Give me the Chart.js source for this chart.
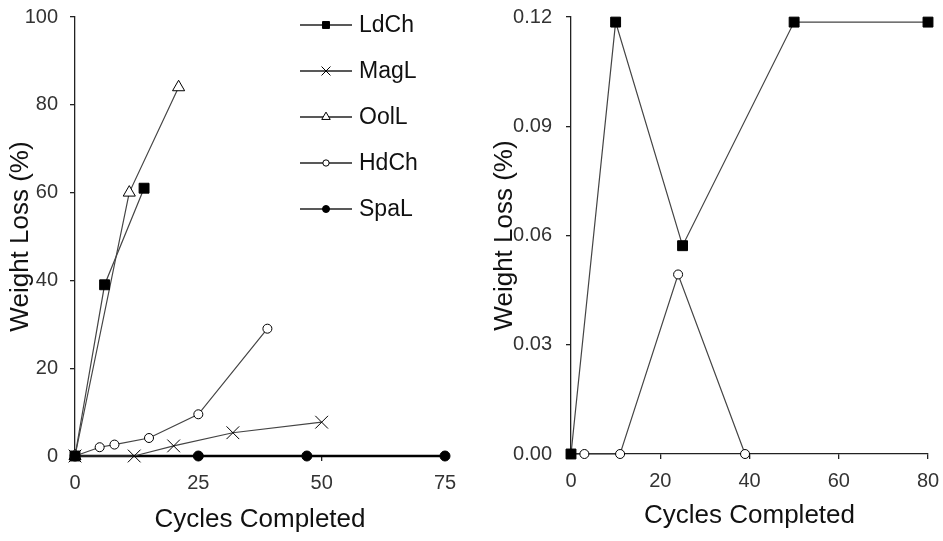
<!DOCTYPE html>
<html>
<head>
<meta charset="utf-8">
<script src="https://cdn.jsdelivr.net/npm/chart.js@4.4.1/dist/chart.umd.min.js"></script>
<style>
  html, body { margin: 0; padding: 0; background: #fff; }
  #wrap { position: relative; width: 943px; height: 541px; }
  canvas { position: absolute; top: 0; }
  #left { left: 0; }
  #right { left: 470px; }
</style>
</head>
<body>
<div id="wrap">
  <canvas id="left" width="470" height="541"></canvas>
  <canvas id="right" width="473" height="541"></canvas>
</div>
<script>
// left panel: weight loss (%) against cycles completed
const ldChCycles = [0, 6, 14];
const ldChLoss = [0, 39, 61];
const magLCycles = [0, 12, 20, 32, 50];
const magLLoss = [0, 0, 2.3, 5.3, 7.7];
const oolLCycles = [0, 11, 21];
const oolLLoss = [0, 60, 84];
const hdChCycles = [0, 5, 8, 15, 25, 39];
const hdChLoss = [0, 2, 2.6, 4.1, 9.5, 29];
const spaLCycles = [0, 25, 47, 75];
const spaLLoss = [0, 0, 0, 0];

// right panel: close-up of the low loss samples
const ldChCyclesR = [0, 10, 25, 50, 80];
const ldChLossR = [0, 0.1186, 0.0572, 0.1186, 0.1186];
const hdChCyclesR = [0, 3, 11, 24, 39];
const hdChLossR = [0, 0, 0, 0.0493, 0];

const leftXTicks = [0, 25, 50, 75];
const leftYTicks = [0, 20, 40, 60, 80, 100];
const rightXTicks = [0, 20, 40, 60, 80];
const rightYTicks = [0, 0.03, 0.06, 0.09, 0.12];

const FONT = 'Liberation Sans, Arial, sans-serif';
Chart.defaults.font.family = FONT;

const styles = {
  LdCh: { pointStyle: 'rect', radius: 7, fill: '#000', lw: 1.2, line: '#444', pbw: 1 },
  MagL: { pointStyle: 'crossRot', radius: 9, fill: '#000', lw: 1.2, line: '#444', pbw: 1 },
  OolL: { pointStyle: 'triangle', radius: 7, fill: '#fff', lw: 1.2, line: '#444', pbw: 1 },
  HdCh: { pointStyle: 'circle', radius: 4.5, fill: '#fff', lw: 1.2, line: '#444', pbw: 1 },
  SpaL: { pointStyle: 'circle', radius: 5, fill: '#000', lw: 2.6, line: '#000', pbw: 1 }
};

function makeSet(name, xs, ys) {
  const s = styles[name];
  return {
    label: name,
    data: xs.map((x, i) => ({ x: x, y: ys[i] })),
    borderColor: s.line,
    borderWidth: s.lw,
    pointStyle: s.pointStyle,
    pointRadius: s.radius,
    pointHoverRadius: s.radius,
    pointBackgroundColor: s.fill,
    pointBorderColor: '#000',
    pointBorderWidth: s.pbw,
    tension: 0,
    clip: false
  };
}

function makeAxis(min, max, ticks, size, title, titlePad, tickPad, fmt) {
  return {
    type: 'linear',
    min: min,
    max: max,
    afterBuildTicks: s => { s.ticks = ticks.map(v => ({ value: v })); },
    afterFit: s => {
      // fixed box sizes so the plot area lands where the reference has it
      if (s.isHorizontal()) {
        s.height = size;
        s.paddingLeft = 0;
        s.paddingRight = 0;
      } else {
        s.width = size;
        s.paddingTop = 0;
        s.paddingBottom = 0;
      }
    },
    grid: { drawOnChartArea: false, drawTicks: true, tickLength: 5, color: '#222', lineWidth: 1.3 },
    border: { color: '#222', width: 1.3 },
    ticks: {
      color: '#333',
      font: { size: 20 },
      padding: tickPad,
      maxRotation: 0,
      autoSkip: false,
      callback: fmt || (v => v)
    },
    title: { display: true, text: title, color: '#111', font: { size: 26 }, padding: titlePad }
  };
}

// legend drawn inside the left plot: short line with the marker in the middle
const lineLegend = {
  id: 'lineLegend',
  afterDraw(chart, args, opts) {
    const ctx = chart.ctx;
    ctx.save();
    chart.data.datasets.forEach((ds, i) => {
      const y = opts.top + i * opts.spacing;
      ctx.strokeStyle = '#222';
      ctx.lineWidth = 1.4;
      ctx.beginPath();
      ctx.moveTo(opts.x0, y);
      ctx.lineTo(opts.x1, y);
      ctx.stroke();
      ctx.fillStyle = ds.pointBackgroundColor;
      ctx.strokeStyle = ds.pointBorderColor;
      ctx.lineWidth = ds.pointBorderWidth;
      Chart.helpers.drawPoint(ctx, {
        pointStyle: ds.pointStyle,
        radius: ds.pointRadius * opts.scale,
        borderWidth: ds.pointBorderWidth,
        rotation: 0
      }, (opts.x0 + opts.x1) / 2, y);
      ctx.fillStyle = '#111';
      ctx.font = '23px ' + FONT;
      ctx.textBaseline = 'middle';
      ctx.textAlign = 'left';
      ctx.fillText(ds.label, opts.textX, y + 1);
    });
    ctx.restore();
  }
};

new Chart(document.getElementById('left'), {
  type: 'line',
  data: {
    datasets: [
      makeSet('LdCh', ldChCycles, ldChLoss),
      makeSet('MagL', magLCycles, magLLoss),
      makeSet('OolL', oolLCycles, oolLLoss),
      makeSet('HdCh', hdChCycles, hdChLoss),
      makeSet('SpaL', spaLCycles, spaLLoss)
    ]
  },
  options: {
    responsive: false,
    animation: false,
    devicePixelRatio: 1,
    layout: { padding: { left: 0, right: 25, top: 17, bottom: 0 } },
    scales: {
      x: makeAxis(0, 75, leftXTicks, 85, 'Cycles Completed', { top: 0, bottom: 6 }, 10),
      y: makeAxis(0, 100, leftYTicks, 75, 'Weight Loss (%)', { top: 5, bottom: 0 }, 12)
    },
    plugins: {
      legend: { display: false },
      tooltip: { enabled: false },
      lineLegend: { x0: 300, x1: 352, textX: 359, top: 25, spacing: 46, scale: 0.7 }
    }
  },
  plugins: [lineLegend]
});

new Chart(document.getElementById('right'), {
  type: 'line',
  data: {
    datasets: [
      makeSet('LdCh', ldChCyclesR, ldChLossR),
      makeSet('HdCh', hdChCyclesR, hdChLossR)
    ]
  },
  options: {
    responsive: false,
    animation: false,
    devicePixelRatio: 1,
    layout: { padding: { left: 0, right: 15, top: 17, bottom: 0 } },
    scales: {
      x: makeAxis(0, 80, rightXTicks, 87, 'Cycles Completed', { top: 0, bottom: 10 }, 10),
      y: makeAxis(0, 0.12, rightYTicks, 101, 'Weight Loss (%)', { top: 19, bottom: 0 }, 14, v => v.toFixed(2))
    },
    plugins: {
      legend: { display: false },
      tooltip: { enabled: false }
    }
  }
});
</script>
</body>
</html>
